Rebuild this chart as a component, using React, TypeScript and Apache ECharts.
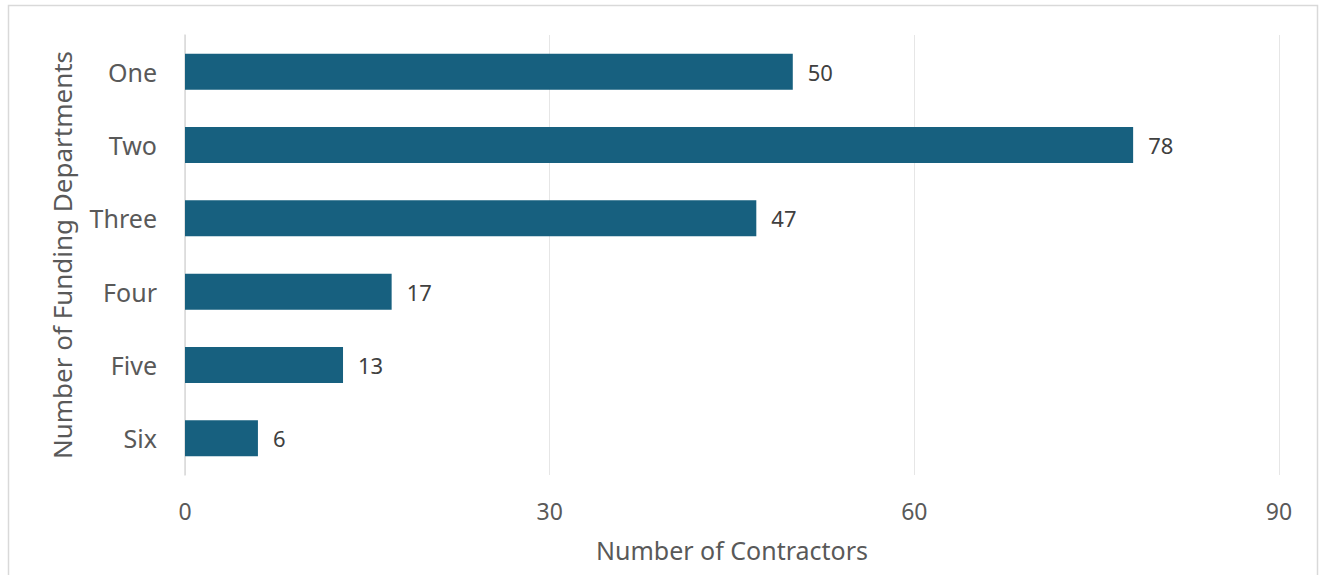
import React, { useEffect, useRef } from "react";
import * as echarts from "echarts";

const categories = ["One", "Two", "Three", "Four", "Five", "Six"];
const contractors = [50, 78, 47, 17, 13, 6];
const xTicks = [0, 30, 60, 90];

export default function App() {
  const ref = useRef<HTMLDivElement>(null);
  useEffect(() => {
    document.body.style.margin = "0";
    const chart = echarts.init(ref.current!, null, { renderer: "svg" });
    const font = "'Noto Sans', 'Open Sans', sans-serif";
    chart.setOption({
      animation: false,
      backgroundColor: "#ffffff",
      graphic: [
        {
          type: "rect",
          shape: { x: 8.5, y: 5.5, width: 1309, height: 620 },
          style: { fill: "none", stroke: "#d9d9d9", lineWidth: 1.5 },
          silent: true,
        },
      ],
      grid: { left: 185, right: 41, top: 35, bottom: 100, containLabel: false },
      xAxis: {
        type: "value",
        min: xTicks[0],
        max: xTicks[xTicks.length - 1],
        interval: 30,
        name: "Number of Contractors",
        nameLocation: "middle",
        nameGap: 62,
        nameTextStyle: { fontFamily: font, fontSize: 25, color: "#595959" },
        axisLine: { show: false },
        axisTick: { show: false },
        axisLabel: { fontFamily: font, fontSize: 23, color: "#595959", margin: 24 },
        splitLine: { show: true, lineStyle: { color: "#e6e6e6", width: 1 } },
      },
      yAxis: {
        type: "category",
        data: categories,
        inverse: true,
        name: "Number of Funding Departments",
        nameLocation: "middle",
        nameGap: 110,
        nameTextStyle: { fontFamily: font, fontSize: 26, color: "#595959" },
        axisLine: { show: true, lineStyle: { color: "#d9d9d9", width: 1.5 } },
        axisTick: { show: false },
        axisLabel: { fontFamily: font, fontSize: 25, color: "#595959", margin: 28 },
      },
      series: [
        {
          type: "bar",
          data: contractors,
          barWidth: 36,
          itemStyle: { color: "#17607f" },
          label: {
            show: true,
            position: "right",
            distance: 15,
            fontFamily: font,
            fontSize: 22,
            color: "#404040",
          },
        },
      ],
    });
    return () => chart.dispose();
  }, []);
  return <div ref={ref} style={{ width: 1320, height: 575 }} />;
}
